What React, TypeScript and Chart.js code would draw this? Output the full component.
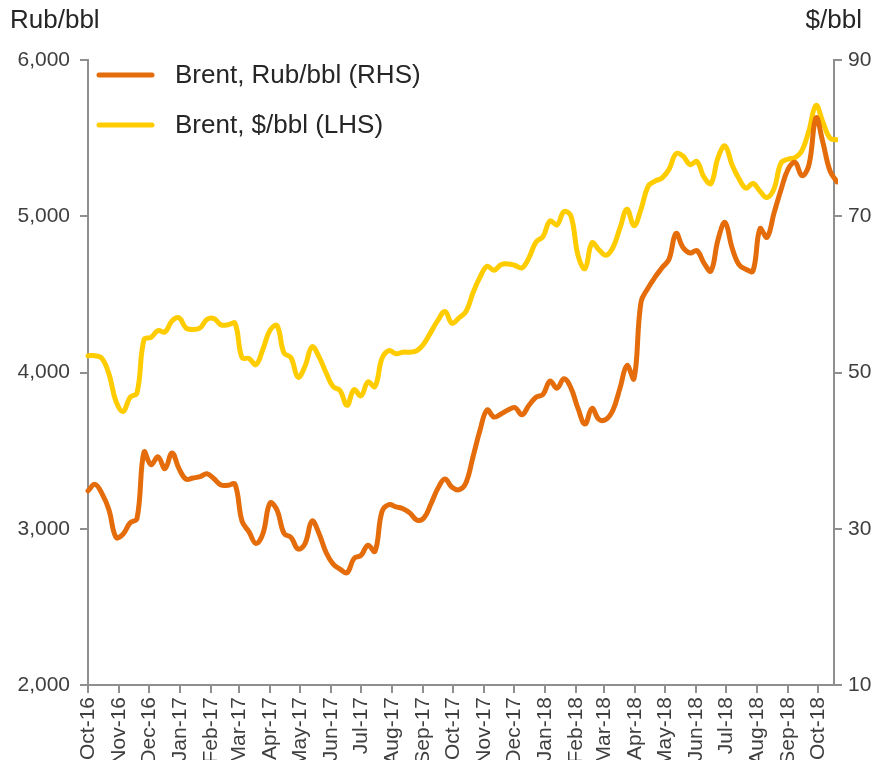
import React, { useEffect, useRef } from "react";
import { Chart, registerables } from "chart.js";

Chart.register(...registerables);

// ---- data ----
const monthLabels = [
  "Oct-16", "Nov-16", "Dec-16", "Jan-17", "Feb-17", "Mar-17", "Apr-17", "May-17",
  "Jun-17", "Jul-17", "Aug-17", "Sep-17", "Oct-17", "Nov-17", "Dec-17", "Jan-18",
  "Feb-18", "Mar-18", "Apr-18", "May-18", "Jun-18", "Jul-18", "Aug-18", "Sep-18", "Oct-18",
];
const axisStart = "2016-10-01";
const axisEnd = "2018-10-17";
const weekStepDays = 7;

const rubPerBbl = [
  3243, 3284, 3225, 3120, 2945, 2965, 3037, 3065, 3490, 3410,
  3460, 3385, 3485, 3385, 3318, 3325, 3333, 3352, 3320, 3280,
  3278, 3285, 3050, 2980, 2905, 2970, 3165, 3120, 2970, 2945,
  2870, 2905, 3050, 2970, 2850, 2775, 2742, 2718, 2810, 2830,
  2895, 2855, 3110, 3155, 3140, 3128, 3100, 3055, 3070, 3160,
  3260, 3318, 3265, 3250, 3295, 3460, 3630, 3760, 3715, 3735,
  3760, 3775, 3730, 3790, 3842, 3860, 3945, 3900, 3960, 3900,
  3770, 3670, 3770, 3700, 3700, 3760, 3900, 4045, 3960, 4450,
  4540, 4610, 4670, 4725, 4890, 4800, 4765, 4780, 4700, 4650,
  4850, 4960, 4800, 4690, 4660, 4650, 4920, 4865, 5020, 5170,
  5300, 5345, 5260, 5330, 5630, 5470, 5290, 5220,
];

const usdPerBbl = [
  52.15, 52.15, 51.8, 49.8, 46.3, 45.0, 46.8, 47.4, 54.2, 54.5,
  55.35, 55.2, 56.6, 57.0, 55.7, 55.5, 55.7, 56.8, 56.9, 56.1,
  56.1, 56.3, 51.9, 51.8, 51.0, 53.0, 55.4, 56.0, 52.5, 51.9,
  49.4, 50.8, 53.3, 52.0, 50.0, 48.2, 47.7, 45.8, 47.8, 47.0,
  48.8, 48.2, 51.8, 52.8, 52.4, 52.6, 52.6, 52.8, 53.7, 55.2,
  56.7, 57.8, 56.3, 57.0, 57.8, 60.2, 62.2, 63.6, 63.1, 63.8,
  63.9, 63.7, 63.4, 64.7, 66.7, 67.4, 69.4, 68.9, 70.6, 70.0,
  65.0, 63.3, 66.6, 65.7, 65.0, 66.0, 68.5, 70.9, 68.8, 70.9,
  73.8, 74.5, 74.9, 76.0, 78.0, 77.7, 76.6, 77.0, 75.0, 74.2,
  77.5, 79.0, 76.6, 74.8, 73.6, 74.2, 73.2, 72.4, 73.5, 76.8,
  77.3, 77.5, 78.4, 81.0, 84.2, 82.0, 80.0, 79.8,
];

const seriesLabels = ["Brent, Rub/bbl (RHS)", "Brent, $/bbl (LHS)"];
const leftAxisTitle = "Rub/bbl";
const rightAxisTitle = "$/bbl";
const leftTicks = { min: 2000, max: 6000, step: 1000 };
const rightTicks = { min: 10, max: 90, step: 20 };

// ---- styles ----
const FONT = "'Liberation Sans', Arial, sans-serif";
const ORANGE = "#E46C0A";
const YELLOW = "#FFCC00";
const AXIS = "#8f8f8f";
const TICK_TEXT = "#3f3f3f";
const TEXT = "#262626";

const DAY = 86400000;
const dayOf = (s: string) => Date.parse(s + "T00:00:00Z");
const monthStartDays = monthLabels.map((_, i) => {
  const d = new Date(Date.UTC(2016, 9 + i, 1));
  return Math.round((d.getTime() - dayOf(axisStart)) / DAY);
});
const axisMaxDays = Math.round((dayOf(axisEnd) - dayOf(axisStart)) / DAY);

const overlayPlugin = {
  id: "overlay",
  afterDraw(chart: any) {
    const { ctx, chartArea } = chart;
    ctx.save();
    ctx.font = `26px ${FONT}`;
    ctx.fillStyle = TEXT;
    ctx.textBaseline = "middle";
    ctx.textAlign = "left";
    ctx.fillText(leftAxisTitle, 10, 21);
    ctx.textAlign = "right";
    ctx.fillText(rightAxisTitle, chart.width - 17, 21);

    chart.data.datasets.forEach((ds: any, i: number) => {
      const y = chartArea.top + 15 + i * 50;
      ctx.beginPath();
      ctx.lineCap = "round";
      ctx.lineWidth = 5;
      ctx.strokeStyle = ds.borderColor;
      ctx.moveTo(chartArea.left + 11, y);
      ctx.lineTo(chartArea.left + 64, y);
      ctx.stroke();
      ctx.textAlign = "left";
      ctx.fillStyle = TEXT;
      ctx.fillText(ds.label, chartArea.left + 87, y + 1);
    });
    ctx.restore();
  },
};

export default function App() {
  const ref = useRef<HTMLCanvasElement | null>(null);

  useEffect(() => {
    if (!ref.current) return;
    const rubData = rubPerBbl.map((v, i) => ({ x: i * weekStepDays, y: v }));
    const usdData = usdPerBbl.map((v, i) => ({ x: i * weekStepDays, y: v }));
    const tickFont = { family: FONT, size: 21 };

    const chart = new Chart(ref.current, {
      type: "line",
      data: {
        datasets: [
          {
            label: seriesLabels[0],
            data: rubData,
            yAxisID: "y",
            borderColor: ORANGE,
            backgroundColor: ORANGE,
            borderWidth: 5,
            pointRadius: 0,
            tension: 0.4,
            borderCapStyle: "round",
            borderJoinStyle: "round",
            clip: 4,
          },
          {
            label: seriesLabels[1],
            data: usdData,
            yAxisID: "y1",
            borderColor: YELLOW,
            backgroundColor: YELLOW,
            borderWidth: 5,
            pointRadius: 0,
            tension: 0.4,
            borderCapStyle: "round",
            borderJoinStyle: "round",
            clip: 4,
          },
        ],
      },
      options: {
        animation: false,
        responsive: true,
        maintainAspectRatio: false,
        layout: { padding: { top: 60, left: 0, right: 0, bottom: 0 } },
        plugins: { legend: { display: false }, tooltip: { enabled: false } },
        scales: {
          x: {
            type: "linear",
            min: 0,
            max: axisMaxDays,
            afterBuildTicks: (scale: any) => {
              scale.ticks = monthStartDays.map((v) => ({ value: v }));
            },
            afterFit: (scale: any) => {
              scale.height = 75;
            },
            ticks: {
              autoSkip: false,
              minRotation: 90,
              maxRotation: 90,
              padding: 4,
              color: TICK_TEXT,
              font: tickFont,
              callback: (_v: any, i: number) => monthLabels[i],
            },
            grid: { display: true, drawOnChartArea: false, drawTicks: true, tickLength: 8, color: AXIS, lineWidth: 2 },
            border: { display: true, color: AXIS, width: 2 },
          },
          y: {
            position: "left",
            min: leftTicks.min,
            max: leftTicks.max,
            afterFit: (scale: any) => {
              scale.width = 88;
            },
            ticks: {
              stepSize: leftTicks.step,
              padding: 10,
              color: TICK_TEXT,
              font: tickFont,
              callback: (v: any) => Number(v).toLocaleString("en-US"),
            },
            grid: { display: true, drawOnChartArea: false, drawTicks: true, tickLength: 8, color: AXIS, lineWidth: 2 },
            border: { display: true, color: AXIS, width: 2 },
          },
          y1: {
            position: "right",
            min: rightTicks.min,
            max: rightTicks.max,
            afterFit: (scale: any) => {
              scale.width = 45;
            },
            ticks: {
              stepSize: rightTicks.step,
              padding: 6,
              color: TICK_TEXT,
              font: tickFont,
            },
            grid: { display: true, drawOnChartArea: false, drawTicks: true, tickLength: 8, color: AXIS, lineWidth: 2 },
            border: { display: true, color: AXIS, width: 2 },
          },
        },
      },
      plugins: [overlayPlugin],
    } as any);
    return () => chart.destroy();
  }, []);

  return (
    <div style={{ position: "fixed", left: 0, top: 0, width: 879, height: 760, background: "#fff" }}>
      <canvas ref={ref} />
    </div>
  );
}
